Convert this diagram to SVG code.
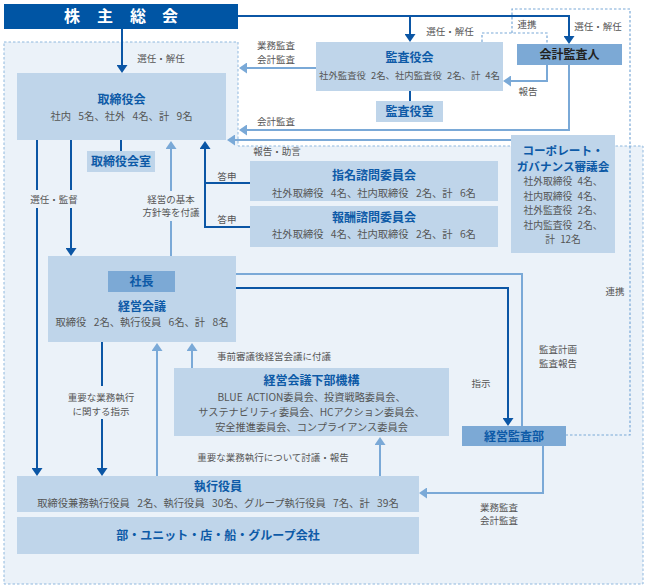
<svg xmlns="http://www.w3.org/2000/svg" width="648" height="587" viewBox="0 0 648 587">
<style>
text{font-family:"Noto Sans CJK JP","Noto Sans",sans-serif}
.box{fill:#bfd5ea}
.mid{fill:#7ca9d5}
.t{font-size:12px;font-weight:bold;fill:#0d5aa7;text-anchor:middle}
.tk{font-size:12px;font-weight:bold;fill:#222;text-anchor:middle}
.s{font-size:10.3px;fill:#555;text-anchor:middle;word-spacing:5px}
.cg{font-size:9.8px;fill:#555;text-anchor:middle;word-spacing:3px}
.l{font-size:9.5px;fill:#555;text-anchor:middle}
.d{fill:none;stroke:#0b56a5;stroke-width:2}
.a{fill:none;stroke:#7aa9d7;stroke-width:2}
.ds{fill:none;stroke:#7aa9d7;stroke-width:1.2;stroke-dasharray:2.5 2}
.bg{fill:#ebf2f9}
</style>
<defs>
<marker id="ad" viewBox="0 0 8 11" refX="5" refY="5.5" markerWidth="8" markerHeight="11" markerUnits="userSpaceOnUse" orient="auto"><path d="M0,0 L8,5.5 L0,11z" fill="#0b56a5"/></marker>
<marker id="al" viewBox="0 0 8 11" refX="5" refY="5.5" markerWidth="8" markerHeight="11" markerUnits="userSpaceOnUse" orient="auto"><path d="M0,0 L8,5.5 L0,11z" fill="#7aa9d7"/></marker>
</defs>
<rect width="648" height="587" fill="#fff"/>
<polygon points="4,42 238,42 238,146 643,146 643,584 4,584" fill="#ebf2f9" stroke="#8fb8de" stroke-width="1" stroke-dasharray="2.5 2"/>

<g id="connectors">
<path class="d" d="M122,29 V70" marker-end="url(#ad)"/>
<path class="d" d="M238,16 H569 V41" marker-end="url(#ad)"/>
<path class="d" d="M410,16 V39" marker-end="url(#ad)"/>
<path class="ds" d="M482,42 V33 H547 V44"/>
<path class="ds" d="M512,33 V9 H630 V435 H566"/>
<path class="a" d="M547,65 V81 H506" marker-end="url(#al)"/>
<path class="d" d="M410,91 V101"/>
<path class="a" d="M316,68 H242" marker-end="url(#al)"/>
<path class="a" d="M569,65 V130 H242" marker-end="url(#al)"/>
<path class="a" d="M511,140 H230" marker-end="url(#al)"/>
<path class="d" d="M37,140 V473" marker-end="url(#ad)"/>
<path class="d" d="M71,140 V253" marker-end="url(#ad)"/>
<path class="d" d="M121,140 V151"/>
<path class="a" d="M171,256 V144" marker-end="url(#al)"/>
<path class="d" d="M250,183 H205 M250,227 H205 V144" marker-end="url(#ad)"/>
<path class="a" d="M522,426 V274 H179" marker-end="url(#al)"/>
<path class="d" d="M175,288 H508 V423" marker-end="url(#ad)"/>
<path class="d" d="M102,342 V473" marker-end="url(#ad)"/>
<path class="a" d="M157,476 V346" marker-end="url(#al)"/>
<path class="a" d="M192,368 V346" marker-end="url(#al)"/>
<path class="a" d="M380,476 V440" marker-end="url(#al)"/>
<path class="a" d="M543,446 V493 H422" marker-end="url(#al)"/>
<rect class="bg" x="28" y="190" width="54" height="18"/>
<rect class="bg" x="140" y="191" width="62" height="30"/>
<rect class="bg" x="66" y="386" width="72" height="33"/>
<text class="l" x="161" y="62">選任・解任</text>
<text class="l" x="450" y="35">選任・解任</text>
<text class="l" x="527" y="28">連携</text>
<text class="l" x="598" y="30">選任・解任</text>
<text class="l" x="276" y="48.5">業務監査</text>
<text class="l" x="276" y="62.5">会計監査</text>
<text class="l" x="528" y="94.5">報告</text>
<text class="l" x="276" y="124.5">会計監査</text>
<text class="l" x="277" y="155">報告・助言</text>
<text class="l" x="54" y="202.5">選任・監督</text>
<text class="l" x="171" y="202.5">経営の基本</text>
<text class="l" x="171" y="215.5">方針等を付議</text>
<text class="l" x="227" y="179.5">答申</text>
<text class="l" x="227" y="222.5">答申</text>
<text class="l" x="101" y="400.5">重要な業務執行</text>
<text class="l" x="101" y="414.5">に関する指示</text>
<text class="l" x="274" y="359.5">事前審議後経営会議に付議</text>
<text class="l" x="481" y="386.5">指示</text>
<text class="l" x="558" y="352.5">監査計画</text>
<text class="l" x="558" y="366.5">監査報告</text>
<text class="l" x="615" y="294.5">連携</text>
<text class="l" x="273" y="460.5">重要な業務執行について討議・報告</text>
<text class="l" x="499" y="510.5">業務監査</text>
<text class="l" x="499" y="523.5">会計監査</text>
</g>

<g id="shareholders">
<rect x="4" y="4" width="234" height="25" fill="#0055a4"/>
<text x="72 105 138 170" y="22" font-size="16" font-weight="bold" fill="#fff" text-anchor="middle">株主総会</text>
</g>
<g id="kansayakukai">
<rect class="box" x="316" y="42" width="187" height="49"/>
<text class="t" x="409.5" y="62">監査役会</text>
<text class="s" x="409.5" y="79" style="font-size:9.4px;word-spacing:3px">社外監査役 2名、社内監査役 2名、計 4名</text>
</g>
<g id="kansayakushitsu">
<rect class="box" x="376" y="101" width="67" height="21"/>
<text class="t" x="409.5" y="116">監査役室</text>
</g>
<g id="kaikeikansanin">
<rect class="mid" x="517" y="44" width="105" height="21"/>
<text class="tk" x="569.5" y="59">会計監査人</text>
</g>
<g id="torishimariyakukai">
<rect class="box" x="17" y="73" width="209" height="67"/>
<text class="t" x="121.5" y="104">取締役会</text>
<text class="s" x="121.5" y="120">社内 5名、社外 4名、計 9名</text>
</g>
<g id="torishimariyakukaishitsu">
<rect class="box" x="87" y="151" width="68" height="21"/>
<text class="t" x="121" y="166">取締役会室</text>
</g>
<g id="shimei">
<rect class="box" x="250" y="161" width="248" height="40"/>
<text class="t" x="374" y="180">指名諮問委員会</text>
<text class="s" x="374" y="196.5">社外取締役 4名、社内取締役 2名、計 6名</text>
</g>
<g id="houshu">
<rect class="box" x="250" y="206" width="248" height="41"/>
<text class="t" x="374" y="222">報酬諮問委員会</text>
<text class="s" x="374" y="237.5">社外取締役 4名、社内取締役 2名、計 6名</text>
</g>
<g id="cg">
<rect class="box" x="511" y="135" width="104" height="118"/>
<text class="t" x="563" y="154.5" style="font-size:11.6px">コーポレート・</text>
<text class="t" x="563" y="170.5" style="font-size:11.6px">ガバナンス審議会</text>
<text class="cg" x="563" y="185">社外取締役 4名、</text>
<text class="cg" x="563" y="199.5">社内取締役 4名、</text>
<text class="cg" x="563" y="214">社外監査役 2名、</text>
<text class="cg" x="563" y="228.5">社内監査役 2名、</text>
<text class="cg" x="563" y="243">計 12名</text>
</g>
<g id="keieikaigi">
<rect class="box" x="48" y="256" width="188" height="86"/>
<text class="t" x="142" y="311">経営会議</text>
<text class="s" x="142" y="326">取締役 2名、執行役員 6名、計 8名</text>
</g>
<g id="shacho">
<rect class="mid" x="108" y="271" width="67" height="21"/>
<text class="t" x="141.5" y="286">社長</text>
</g>
<g id="kabukikou">
<rect class="box" x="174" y="368" width="275" height="68"/>
<text class="t" x="311.5" y="385">経営会議下部機構</text>
<text class="s" x="311.5" y="400.5" style="font-size:10.2px;word-spacing:2px">BLUE ACTION委員会、投資戦略委員会、</text>
<text class="s" x="311.5" y="415.5" style="font-size:10.2px">サステナビリティ委員会、HCアクション委員会、</text>
<text class="s" x="311.5" y="430.5" style="font-size:10.2px">安全推進委員会、コンプライアンス委員会</text>
</g>
<g id="keieikansabu">
<rect class="mid" x="462" y="426" width="104" height="20"/>
<text class="t" x="514" y="440.5">経営監査部</text>
</g>
<g id="shikkouyakuin">
<rect class="box" x="17" y="476" width="402" height="36"/>
<text class="t" x="218" y="491">執行役員</text>
<text class="s" x="218" y="506.5">取締役兼務執行役員 2名、執行役員 30名、グループ執行役員 7名、計 39名</text>
</g>
<g id="bumon">
<rect class="box" x="17" y="517" width="402" height="37"/>
<text class="t" x="218" y="540">部・ユニット・店・船・グループ会社</text>
</g>
</svg>
